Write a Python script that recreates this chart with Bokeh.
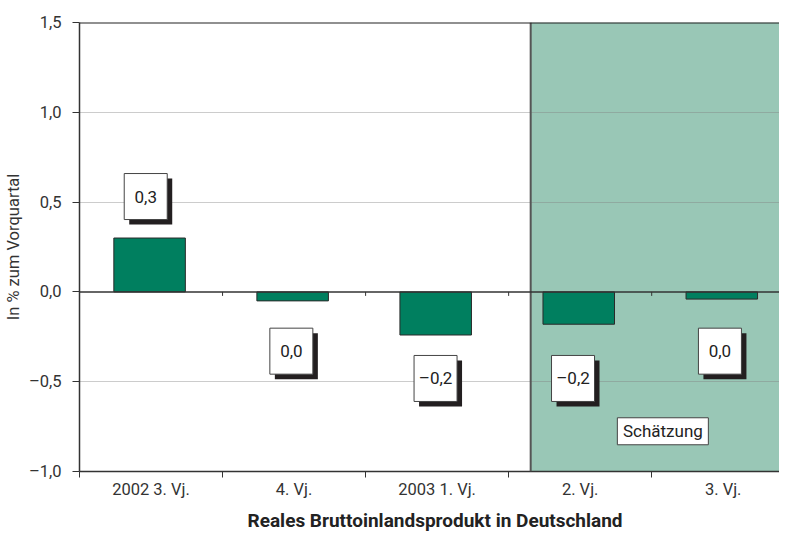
from bokeh.plotting import figure
from bokeh.models import FixedTicker, Span, Title
from bokeh.core.properties import value
from bokeh.embed import file_html
from bokeh.resources import INLINE

# ---- data ----
categories = ["2002 3. Vj.", "4. Vj.", "2003 1. Vj.", "2. Vj.", "3. Vj."]
values = [0.30, -0.05, -0.24, -0.18, -0.04]
value_labels = ["0,3", "0,0", "–0,2", "–0,2", "0,0"]
y_ticks = [-1.0, -0.5, 0.0, 0.5, 1.0, 1.5]
y_tick_labels = ["–1,0", "–0,5", "0,0", "0,5", "1,0", "1,5"]
estimate_label = "Schätzung"

# ---- annotation placement (category units / value units) ----
estimate_start = 3.154
label_x = [0.463, 1.481, 2.489, 3.45, 4.477]
label_y = [0.531, -0.33, -0.482, -0.482, -0.33]
est_x, est_y = 4.078, -0.776

PX_X = 143.05
PX_Y = 179.6
FW, FH = 700, 449
x_end = FW / PX_X
FONT = "Roboto"

p = figure(frame_width=FW, frame_height=FH, x_range=(0, x_end), y_range=(-1.0, 1.5),
           output_backend="svg", toolbar_location=None,
           min_border_left=74, min_border_right=0, min_border_top=22, min_border_bottom=50)
p.outline_line_color = None
p.background_fill_color = "white"
p.border_fill_color = "white"

# shaded estimate period
p.quad(left=[estimate_start], right=[x_end], bottom=[-1.0], top=[1.5],
       fill_color="#99c7b6", line_color=None, level="image")
p.add_layout(Span(location=estimate_start, dimension="height", line_color="#555555", line_width=2))

# grid
p.xgrid.visible = False
p.ygrid.ticker = FixedTicker(ticks=[-0.5, 0.5, 1.0])
p.ygrid.grid_line_color = "#808080"
p.ygrid.grid_line_alpha = 0.4
p.ygrid.grid_line_width = 1

# bars
xs = [i + 0.49 for i in range(len(categories))]
p.vbar(x=xs, top=values, bottom=0, width=0.5, fill_color="#007f5f",
       line_color="#2a2a2a", line_width=1)

# zero line + its ticks
p.add_layout(Span(location=0, dimension="width", line_color="#333333", line_width=1.5))
tick_len = 4 / PX_Y
bx = list(range(1, len(categories)))
p.segment(x0=bx, y0=[0] * len(bx), x1=bx, y1=[-tick_len] * len(bx),
          line_color="#333333", line_width=1)

# top border
p.add_layout(Span(location=1.5, dimension="width", line_color="#222222", line_width=2))

# value label boxes with shadow
dx, dy = 5 / PX_X, 5 / PX_Y
p.rect(x=[v + dx for v in label_x], y=[v - dy for v in label_y], width=43, height=46,
       width_units="screen", height_units="screen", fill_color="#231f20", line_color=None)
p.rect(x=label_x, y=label_y, width=43, height=46, width_units="screen", height_units="screen",
       fill_color="white", line_color="#444444", line_width=1)
p.text(x=label_x, y=label_y, text=value_labels, text_align="center", text_baseline="middle",
       text_font=value(FONT), text_font_size="17px", text_color="#222222")

# Schätzung box
p.rect(x=[est_x], y=[est_y], width=91, height=27, width_units="screen", height_units="screen",
       fill_color="white", line_color="#444444", line_width=1)
p.text(x=[est_x], y=[est_y], text=[estimate_label], text_align="center", text_baseline="middle",
       text_font=value(FONT), text_font_size="17px", text_color="#222222")

# y axis
p.yaxis.ticker = FixedTicker(ticks=y_ticks)
p.yaxis.major_label_overrides = dict(zip(y_ticks, y_tick_labels))
p.yaxis.major_tick_out = 7
p.yaxis.major_tick_in = 0
p.yaxis.minor_tick_line_color = None
p.yaxis.major_label_standoff = 11
p.yaxis.axis_line_color = "#333333"
p.yaxis.axis_line_width = 1.5
p.yaxis.major_tick_line_color = "#333333"
p.yaxis.major_label_text_font = FONT
p.yaxis.major_label_text_font_size = "16.5px"
p.yaxis.major_label_text_color = "#333333"
p.yaxis.axis_label = "In % zum Vorquartal"
p.yaxis.axis_label_text_font = FONT
p.yaxis.axis_label_text_font_size = "16.5px"
p.yaxis.axis_label_text_font_style = "normal"
p.yaxis.axis_label_text_color = "#333333"
p.yaxis.axis_label_standoff = 3

# x axis
centers = [i + 0.5 for i in range(len(categories))]
p.xaxis.ticker = FixedTicker(ticks=centers, minor_ticks=list(range(len(categories))))
p.xaxis.major_label_overrides = dict(zip(centers, categories))
p.xaxis.major_tick_out = 0
p.xaxis.major_tick_in = 0
p.xaxis.minor_tick_out = 6
p.xaxis.minor_tick_in = 0
p.xaxis.minor_tick_line_color = "#333333"
p.xaxis.axis_line_color = "#333333"
p.xaxis.axis_line_width = 1.5
p.xaxis.major_label_standoff = 2
p.xaxis.major_label_text_font = FONT
p.xaxis.major_label_text_font_size = "16.5px"
p.xaxis.major_label_text_color = "#333333"

p.add_layout(Title(text="Reales Bruttoinlandsprodukt in Deutschland", align="left", offset=168,
                   text_font=FONT, text_font_size="19px", text_font_style="bold",
                   text_color="#222222", standoff=10), "below")

open("out.html", "w").write(file_html(p, INLINE))
